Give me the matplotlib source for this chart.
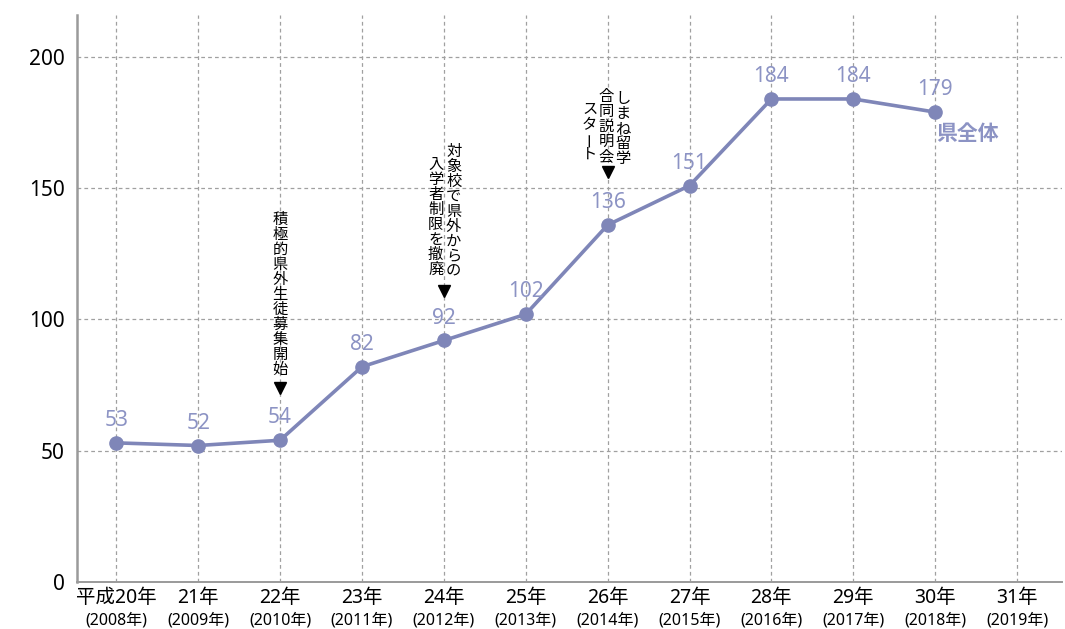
import numpy as np
import matplotlib.pyplot as plt
from matplotlib.transforms import blended_transform_factory, offset_copy

plt.rcParams['font.family'] = ['Noto Sans', 'Noto Sans CJK JP', 'DejaVu Sans']

# data
years = ['平成20年', '21年', '22年', '23年', '24年', '25年', '26年', '27年',
         '28年', '29年', '30年', '31年']
years_ad = ['(2008年)', '(2009年)', '(2010年)', '(2011年)', '(2012年)', '(2013年)',
            '(2014年)', '(2015年)', '(2016年)', '(2017年)', '(2018年)', '(2019年)']
students = [53, 52, 54, 82, 92, 102, 136, 151, 184, 184, 179]
series_name = '県全体'

# vertical notes: text of each column, its x (data) and first char centre (data y)
note_cols = ['積極的県外生徒募集開始',
             '対象校で県外からの', '入学者制限を撤廃',
             'しまね留学', '合同説明会', 'スタート']
note_x = [2.0, 4.12, 3.90, 6.19, 5.98, 5.78]
note_top = [138, 164, 159, 184, 185, 180]
arrow_x = [2, 4, 6]
arrow_y = [74, 111, 156]

line_col = '#7f86b8'
label_col = '#8c93c4'
cjk = ['Noto Sans CJK JP', 'DejaVu Sans']

fig = plt.figure(figsize=(10.65, 6.29), dpi=100)
ax = fig.add_axes([0.0723, 0.0747, 0.925, 0.9015])

x = np.arange(len(students))
ax.plot(x, students, color=line_col, lw=2.6, marker='o', ms=9.5,
        markerfacecolor=line_col, markeredgecolor=line_col, zorder=3)

for xi, v in zip(x, students):
    ax.text(xi, v + 4.5, str(v), ha='center', va='bottom', fontsize=15,
            color=label_col, zorder=4)

ax.text(10.39, students[-1] - 8, series_name, ha='center', va='center',
        fontsize=15, fontweight='bold', color=label_col, family=cjk)

# vertical text, one glyph at a time
pitch = 15.0  # px between characters
for txt, cx, top in zip(note_cols, note_x, note_top):
    for k, ch in enumerate(txt):
        tr = offset_copy(ax.transData, fig=fig, x=0, y=-k * pitch * 72 / 100,
                         units='points')
        rot = 90 if ch == 'ー' else 0
        ax.text(cx, top, ch, transform=tr, ha='center', va='center',
                fontsize=11, rotation=rot, color='black', family=cjk)
ax.plot(arrow_x, arrow_y, ls='none', marker='v', ms=8, color='black', zorder=4)

ax.set_xlim(-0.48, 11.55)
ax.set_ylim(0, 216)
ax.set_yticks([0, 50, 100, 150, 200])
ax.set_xticks(np.arange(len(years)))
ax.set_xticklabels(years, fontsize=14)
ax.tick_params(axis='both', length=0)
ax.tick_params(axis='x', pad=4)
ax.tick_params(axis='y', labelsize=15, pad=9)

trans = blended_transform_factory(ax.transData, ax.transAxes)
for i, t in enumerate(years_ad):
    ax.text(i, -0.068, t, transform=trans, ha='center', va='center', fontsize=11.5)

ax.grid(True, color='#a0a0a0', lw=0.9, ls=(0, (3, 2.5)))
ax.set_axisbelow(True)
for s in ['top', 'right']:
    ax.spines[s].set_visible(False)
ax.spines['left'].set_color('#9a9a9a')
ax.spines['left'].set_linewidth(1.8)
ax.spines['bottom'].set_color('#9a9a9a')
ax.spines['bottom'].set_linewidth(1.4)

fig.savefig('out.png', dpi=100)
